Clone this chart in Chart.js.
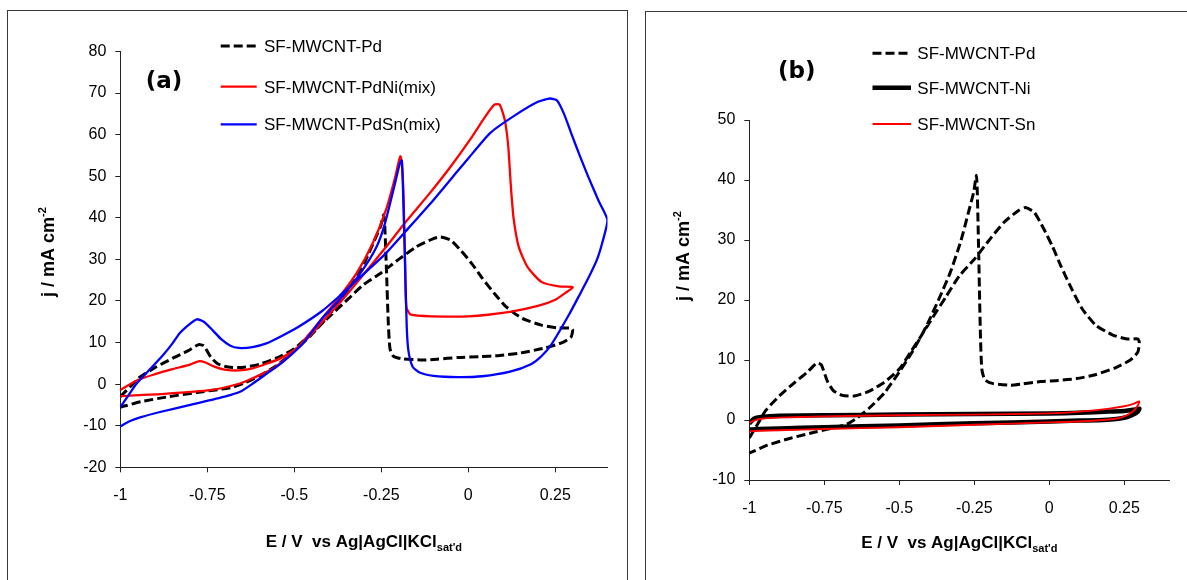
<!DOCTYPE html>
<html>
<head>
<meta charset="utf-8">
<script src="https://cdn.jsdelivr.net/npm/chart.js@4.4.1/dist/chart.umd.min.js"></script>
<style>
html, body { margin: 0; padding: 0; background: #fff; overflow: hidden; }
body { width: 1187px; height: 580px; position: relative; }
.frame { position: absolute; border: 1px solid #3a3a3a; box-sizing: border-box; }
#frameA { left: 7px; top: 10px; width: 621px; height: 620px; }
#frameB { left: 645px; top: 11px; width: 600px; height: 620px; }
.wrap { position: absolute; top: 0; height: 580px; }
#wrapA { left: 0; width: 640px; }
#wrapB { left: 640px; width: 547px; }
</style>
</head>
<body>
<div class="frame" id="frameA"></div>
<div class="frame" id="frameB"></div>
<div class="wrap" id="wrapA"><canvas id="chartA" width="640" height="580"></canvas></div>
<div class="wrap" id="wrapB"><canvas id="chartB" width="547" height="580"></canvas></div>
<script>
// axis ticks
const xTicks = [-1, -0.75, -0.5, -0.25, 0, 0.25];
const xTickLabels = ['-1', '-0.75', '-0.5', '-0.25', '0', '0.25'];
const yTicksA = [-20, -10, 0, 10, 20, 30, 40, 50, 60, 70, 80];
const yTicksB = [-10, 0, 10, 20, 30, 40, 50];

const seriesA = ['SF-MWCNT-Pd', 'SF-MWCNT-PdNi(mix)', 'SF-MWCNT-PdSn(mix)'];
const seriesB = ['SF-MWCNT-Pd', 'SF-MWCNT-Ni', 'SF-MWCNT-Sn'];

// SF-MWCNT-Pd (forward scan then reverse scan)
const pdE = [-1, -0.97, -0.945, -0.9, -0.85, -0.806, -0.775, -0.76, -0.74, -0.72, -0.69, -0.65, -0.6, -0.55, -0.5, -0.46, -0.43, -0.39, -0.345, -0.3, -0.25, -0.2, -0.15, -0.1, -0.08, -0.05, -0.02, 0.01, 0.04, 0.075, 0.11, 0.155, 0.21, 0.26, 0.295, 0.3,
  0.295, 0.27, 0.22, 0.15, 0.09, 0.03, -0.03, -0.09, -0.13, -0.19, -0.215, -0.225, -0.23, -0.235, -0.24, -0.243, -0.252, -0.27, -0.295, -0.33, -0.365, -0.41, -0.455, -0.5, -0.55, -0.6, -0.645, -0.675, -0.71, -0.78, -0.86, -0.94, -0.985, -1];
const pdJ = [-3.0, -0.5, 1.6, 4.0, 6.2, 8.0, 9.5, 9.2, 6.5, 4.9, 4.1, 4.0, 4.8, 6.3, 8.5, 11.5, 13.8, 17.0, 20.5, 24.0, 26.8, 30.0, 33.0, 35.0, 35.4, 34.6, 32.0, 29.0, 25.5, 21.8, 18.5, 15.8, 14.2, 13.5, 13.5, 13.0,
  11.3, 10.0, 8.7, 7.5, 6.9, 6.6, 6.4, 6.0, 5.8, 6.1, 6.7, 8.5, 15, 27, 38, 40.8, 38, 34.5, 29.8, 24.6, 20.5, 15.6, 11.5, 8.0, 4.5, 2.0, 0.2, -0.7, -1.2, -2.0, -3.0, -4.2, -5.2, -5.5];

// SF-MWCNT-PdNi(mix)
const pdniE = [-1, -0.95, -0.9, -0.85, -0.8, -0.775, -0.755, -0.73, -0.7, -0.66, -0.62, -0.58, -0.54, -0.5, -0.46, -0.43, -0.37, -0.3, -0.24, -0.18, -0.11, -0.05, 0.005, 0.05, 0.075, 0.09, 0.105, 0.115, 0.122, 0.13, 0.145, 0.17, 0.21, 0.26, 0.3,
  0.28, 0.25, 0.2, 0.12, 0.0, -0.1, -0.165, -0.178, -0.182, -0.186, -0.19, -0.195, -0.2, -0.21, -0.235, -0.275, -0.32, -0.37, -0.43, -0.5, -0.56, -0.62, -0.656, -0.742, -0.886, -0.96, -1];
const pdniJ = [-1.4, 1.0, 2.4, 3.6, 4.7, 5.5, 5.2, 4.2, 3.5, 3.3, 3.8, 4.9, 6.2, 8.2, 11.2, 14.0, 19.5, 26.5, 32.6, 39, 46, 52.4, 58.8, 64.5, 67.2, 67.2, 63.5, 57, 48, 40, 33, 28.2, 24.6, 23.5, 23.3,
  22.0, 20.3, 18.8, 17.4, 16.3, 16.3, 16.7, 18.5, 30, 45, 52, 54.8, 53.5, 49.8, 42.3, 33.8, 26.8, 21, 14.8, 7.9, 3.8, 1.4, 0.15, -1.45, -2.4, -2.7, -2.9];

// SF-MWCNT-PdSn(mix)
const pdsnE = [-1, -0.975, -0.953, -0.91, -0.877, -0.85, -0.83, -0.8, -0.78, -0.76, -0.735, -0.71, -0.685, -0.66, -0.62, -0.58, -0.55, -0.49, -0.42, -0.37, -0.31, -0.24, -0.17, -0.1, -0.03, 0.015, 0.064, 0.135, 0.2, 0.235, 0.255, 0.275, 0.295, 0.32, 0.346, 0.375, 0.4,
  0.385, 0.37, 0.345, 0.323, 0.29, 0.24, 0.21, 0.18, 0.12, 0.04, -0.03, -0.1, -0.14, -0.16, -0.172, -0.177, -0.182, -0.187, -0.191, -0.197, -0.21, -0.24, -0.265, -0.31, -0.37, -0.42, -0.476, -0.535, -0.585, -0.618, -0.656, -0.7, -0.79, -0.886, -0.943, -0.975, -1];
const pdsnJ = [-5.6, -2.5, 0.15, 4.0, 7.0, 9.8, 12.2, 14.5, 15.6, 15.0, 13.0, 10.8, 9.3, 8.7, 8.9, 9.8, 11.0, 13.7, 17.6, 21.2, 25.8, 31.2, 37.7, 44.3, 51.3, 55.8, 60.5, 64.7, 67.9, 68.7, 68.2, 65.0, 60.5, 55.0, 49.6, 44.0, 39.4,
  34.0, 30.0, 25.5, 22.0, 16.8, 9.7, 6.7, 4.8, 3.0, 1.9, 1.7, 2.0, 2.8, 4.2, 8.0, 14.0, 30.0, 45.0, 53.8, 53.0, 48.5, 38.5, 32.8, 26.7, 20.3, 15.8, 9.7, 5.2, 2.2, 0.2, -1.85, -3.0, -4.8, -6.7, -8.0, -9.0, -10.2];

// SF-MWCNT-Ni and SF-MWCNT-Sn
const niE = [-1, -0.985, -0.96, -0.9, -0.75, -0.5, -0.25, 0, 0.1, 0.2, 0.25, 0.28, 0.3, 0.295, 0.28, 0.26, 0.23, 0.18, 0.1, 0, -0.25, -0.5, -0.75, -0.9, -0.97, -1];
const niJ = [-0.6, 0.2, 0.5, 0.7, 0.8, 0.9, 1.0, 1.1, 1.2, 1.4, 1.5, 1.7, 1.9, 1.4, 0.9, 0.5, 0.2, 0.0, -0.1, -0.25, -0.55, -0.9, -1.2, -1.4, -1.5, -1.6];
const snE = [-1, -0.985, -0.96, -0.9, -0.75, -0.5, -0.25, 0, 0.1, 0.2, 0.25, 0.28, 0.3, 0.295, 0.28, 0.26, 0.23, 0.18, 0.1, 0, -0.25, -0.5, -0.75, -0.9, -0.97, -1];
const snJ = [-0.5, -0.1, 0.2, 0.4, 0.6, 0.8, 0.9, 1.1, 1.4, 1.9, 2.3, 2.7, 3.1, 2.4, 1.5, 0.8, 0.3, 0.0, -0.25, -0.4, -0.8, -1.2, -1.5, -1.7, -1.8, -1.9];

const FONT = '"Liberation Sans", Arial, sans-serif';

function pts(es, js) {
  return es.map((e, i) => ({ x: e, y: js[i] }));
}

function line(label, es, js, color, width, dash, order) {
  return {
    label: label,
    data: pts(es, js),
    showLine: true,
    borderColor: color,
    borderWidth: width,
    borderDash: dash,
    pointRadius: 0,
    tension: 0.2,
    fill: false,
    order: order
  };
}

// legend, panel tag and axis titles with sub/superscripts
const decorPlugin = {
  id: 'decor',
  afterDraw(chart, args, o) {
    const ctx = chart.ctx;
    const area = chart.chartArea;
    ctx.save();
    ctx.fillStyle = '#000';

    // panel tag
    ctx.font = 'bold 23px "DejaVu Sans", Verdana, sans-serif';
    ctx.textAlign = 'center';
    ctx.textBaseline = 'middle';
    ctx.fillText(o.tag, o.tagX, o.tagY);

    // legend
    chart.data.datasets.forEach((ds, i) => {
      const y = o.legY[i];
      ctx.beginPath();
      ctx.strokeStyle = ds.borderColor;
      ctx.lineWidth = ds.borderWidth;
      ctx.setLineDash(ds.borderDash || []);
      ctx.moveTo(o.legX0, y);
      ctx.lineTo(o.legX1, y);
      ctx.stroke();
      ctx.setLineDash([]);
      ctx.font = '17px ' + FONT;
      ctx.textAlign = 'left';
      ctx.textBaseline = 'middle';
      ctx.fillText(ds.label, o.legTextX, y + 1.5);
    });

    // x title
    const main = 'E / V  vs Ag|AgCl|KCl';
    const sub = "sat'd";
    ctx.textBaseline = 'alphabetic';
    ctx.textAlign = 'left';
    ctx.font = 'bold 17px ' + FONT;
    const wMain = ctx.measureText(main).width;
    ctx.font = 'bold 11px ' + FONT;
    const wSub = ctx.measureText(sub).width;
    const cx = (area.left + area.right) / 2;
    let x0 = cx - (wMain + wSub) / 2;
    ctx.font = 'bold 17px ' + FONT;
    ctx.fillText(main, x0, o.xTitleY);
    ctx.font = 'bold 11px ' + FONT;
    ctx.fillText(sub, x0 + wMain, o.xTitleY + 4);

    // y title
    const ym = 'j / mA cm';
    const ysup = '-2';
    ctx.save();
    ctx.translate(o.yTitleX, o.yTitleY);
    ctx.rotate(-Math.PI / 2);
    ctx.font = 'bold 18px ' + FONT;
    const wy = ctx.measureText(ym).width;
    ctx.font = 'bold 11px ' + FONT;
    const ws = ctx.measureText(ysup).width;
    const sx = -(wy + ws) / 2;
    ctx.textBaseline = 'middle';
    ctx.font = 'bold 18px ' + FONT;
    ctx.fillText(ym, sx, 0);
    ctx.font = 'bold 11px ' + FONT;
    ctx.fillText(ysup, sx + wy, -6);
    ctx.restore();

    ctx.restore();
  }
};

function makeChart(id, datasets, yTicks, yMin, yMax, yWidth, padding, decor) {
  return new Chart(document.getElementById(id), {
    type: 'scatter',
    data: { datasets: datasets },
    options: {
      responsive: false,
      animation: false,
      events: [],
      layout: { padding: padding },
      plugins: {
        legend: { display: false },
        tooltip: { enabled: false },
        decor: decor
      },
      scales: {
        x: {
          type: 'linear',
          min: -1,
          max: 0.4,
          afterBuildTicks: (axis) => { axis.ticks = xTicks.map(v => ({ value: v })); },
          afterFit: (axis) => { axis.height = 60; },
          grid: { drawOnChartArea: false, drawTicks: true, tickLength: 5, color: '#222', lineWidth: 1 },
          border: { display: true, color: '#222', width: 1 },
          ticks: {
            padding: 14,
            color: '#000',
            maxRotation: 0,
            font: { family: FONT, size: 16 },
            callback: (v) => xTickLabels[xTicks.indexOf(v)]
          }
        },
        y: {
          type: 'linear',
          min: yMin,
          max: yMax,
          afterBuildTicks: (axis) => { axis.ticks = yTicks.map(v => ({ value: v })); },
          afterFit: (axis) => { axis.width = yWidth; },
          grid: { drawOnChartArea: false, drawTicks: true, tickLength: 5, color: '#222', lineWidth: 1 },
          border: { display: true, color: '#222', width: 1 },
          ticks: {
            padding: 9,
            color: '#000',
            font: { family: FONT, size: 16 },
            callback: (v) => String(v)
          }
        }
      }
    },
    plugins: [decorPlugin]
  });
}

makeChart('chartA', [
    line(seriesA[0], pdE, pdJ, '#000000', 3, [9, 4], 3),
    line(seriesA[1], pdniE, pdniJ, '#ff0000', 2.3, [], 2),
    line(seriesA[2], pdsnE, pdsnJ, '#0000ff', 2.3, [], 1)
  ], yTicksA, -20, 80, 120.3,
  { left: 0, top: 51.5, right: 32.5, bottom: 52.7 },
  { tag: '(a)', tagX: 164, tagY: 82, legY: [46, 86.7, 124.3], legX0: 220.7, legX1: 256.7, legTextX: 264,
    xTitleY: 546.5, yTitleX: 49, yTitleY: 252 });

makeChart('chartB', [
    line(seriesB[0], pdE, pdJ, '#000000', 3, [9, 4], 3),
    line(seriesB[1], niE, niJ, '#000000', 4.5, [], 2),
    line(seriesB[2], snE, snJ, '#ff0000', 1.9, [], 1)
  ], yTicksB, -10, 50, 109.3,
  { left: 0, top: 120, right: 17.7, bottom: 40 },
  { tag: '(b)', tagX: 156.7, tagY: 71.7, legY: [53.3, 87.7, 124], legX0: 232.5, legX1: 271, legTextX: 277.3,
    xTitleY: 548, yTitleX: 44, yTitleY: 256 });
</script>
</body>
</html>
